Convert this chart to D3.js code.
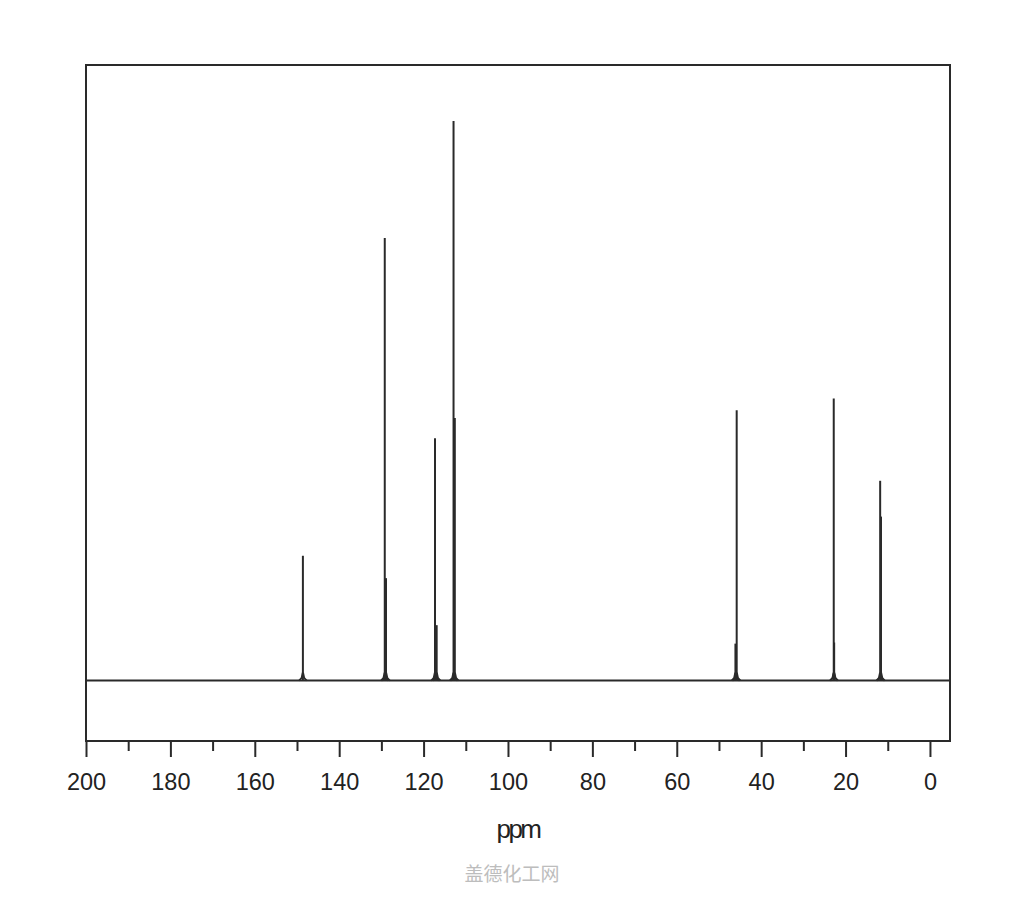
<!DOCTYPE html>
<html>
<head>
<meta charset="utf-8">
<script src="https://cdn.jsdelivr.net/npm/d3@7"></script>
<style>
  body { margin: 0; background: #fff; }
  svg text { font-family: "Liberation Sans", Arial, sans-serif; }
</style>
</head>
<body>
<div id="graph"></div>
<script>
(function(){
	"use strict";

	// peak positions (ppm) and heights (relative, tallest = 100)
	var peakPpm    = [148.6, 129.2, 128.9, 117.3, 116.9, 112.9, 112.6, 45.8, 46.1, 22.8, 22.7, 11.8, 11.6];
	var peakHeight = [22.3,  79.1,  18.3,  43.3,  9.9,   100,   46.9,  48.3, 6.6,  50.4, 6.8,  35.7, 29.3];

	var majorTicks = [200, 180, 160, 140, 120, 100, 80, 60, 40, 20, 0];
	var minorTicks = [190, 170, 150, 130, 110, 90, 70, 50, 30, 10];

	var width = 1024, height = 900;
	var left = 86, right = 950, top = 65, bottom = 741;

	var svg = d3.select("#graph").append("svg")
		.attr("width", width)
		.attr("height", height);

	var xScale = d3.scaleLinear()
		.domain([200, -4.75])
		.range([left, right]);

	var yScale = d3.scaleLinear()
		.domain([-10.8, 110])
		.range([bottom, top]);

	var ink = "#2a2a2a";

	// frame
	svg.append("rect")
		.attr("x", left)
		.attr("y", top)
		.attr("width", right - left)
		.attr("height", bottom - top)
		.attr("fill", "none")
		.attr("stroke", ink)
		.attr("stroke-width", 2);

	// baseline of spectrum
	svg.append("line")
		.attr("x1", left).attr("x2", right)
		.attr("y1", yScale(0)).attr("y2", yScale(0))
		.attr("stroke", ink)
		.attr("stroke-width", 2);

	// small feet at the base of each peak
	var foot = d3.line()
		.x(function(d){ return xScale(d[0]); })
		.y(function(d){ return yScale(d[1]); });

	svg.append("g").selectAll("path")
		.data(peakPpm)
		.enter()
		.append("path")
		.attr("d", function(p){
			return foot([[p + 0.9, 0], [p + 0.3, 0.5], [p + 0.08, 1.3], [p - 0.08, 1.3], [p - 0.3, 0.5], [p - 0.9, 0]]);
		})
		.attr("fill", "none")
		.attr("stroke", ink)
		.attr("stroke-width", 1.8);

	// peak sticks
	svg.append("g").selectAll("line")
		.data(peakPpm)
		.enter()
		.append("line")
		.attr("x1", function(d){ return xScale(d); })
		.attr("x2", function(d){ return xScale(d); })
		.attr("y1", yScale(0))
		.attr("y2", function(d, i){ return yScale(peakHeight[i]); })
		.attr("stroke", ink)
		.attr("stroke-width", 2);

	// axis
	var majorAxis = d3.axisBottom(xScale)
		.tickValues(majorTicks)
		.tickSize(16)
		.tickPadding(16)
		.tickFormat(d3.format("d"));

	var minorAxis = d3.axisBottom(xScale)
		.tickValues(minorTicks)
		.tickSize(10)
		.tickFormat("");

	var gMajor = svg.append("g")
		.attr("transform", "translate(0," + bottom + ")")
		.call(majorAxis);
	var gMinor = svg.append("g")
		.attr("transform", "translate(0," + bottom + ")")
		.call(minorAxis);

	[gMajor, gMinor].forEach(function(g){
		g.select(".domain").remove();
		g.selectAll(".tick line").attr("stroke", ink).attr("stroke-width", 2);
	});
	gMajor.selectAll(".tick text")
		.attr("fill", "#222")
		.style("font-size", "23.5px");

	// axis title
	svg.append("text")
		.attr("x", 518)
		.attr("y", 838)
		.attr("text-anchor", "middle")
		.attr("fill", "#222")
		.style("font-size", "26px")
		.style("letter-spacing", "-2.5px")
		.text("ppm");

	// watermark
	svg.append("text")
		.attr("x", 512)
		.attr("y", 881)
		.attr("text-anchor", "middle")
		.attr("fill", "#bdbdbd")
		.style("font-family", "'Noto Sans CJK SC', sans-serif")
		.style("font-size", "19px")
		.text("盖德化工网");
})();
</script>
</body>
</html>
